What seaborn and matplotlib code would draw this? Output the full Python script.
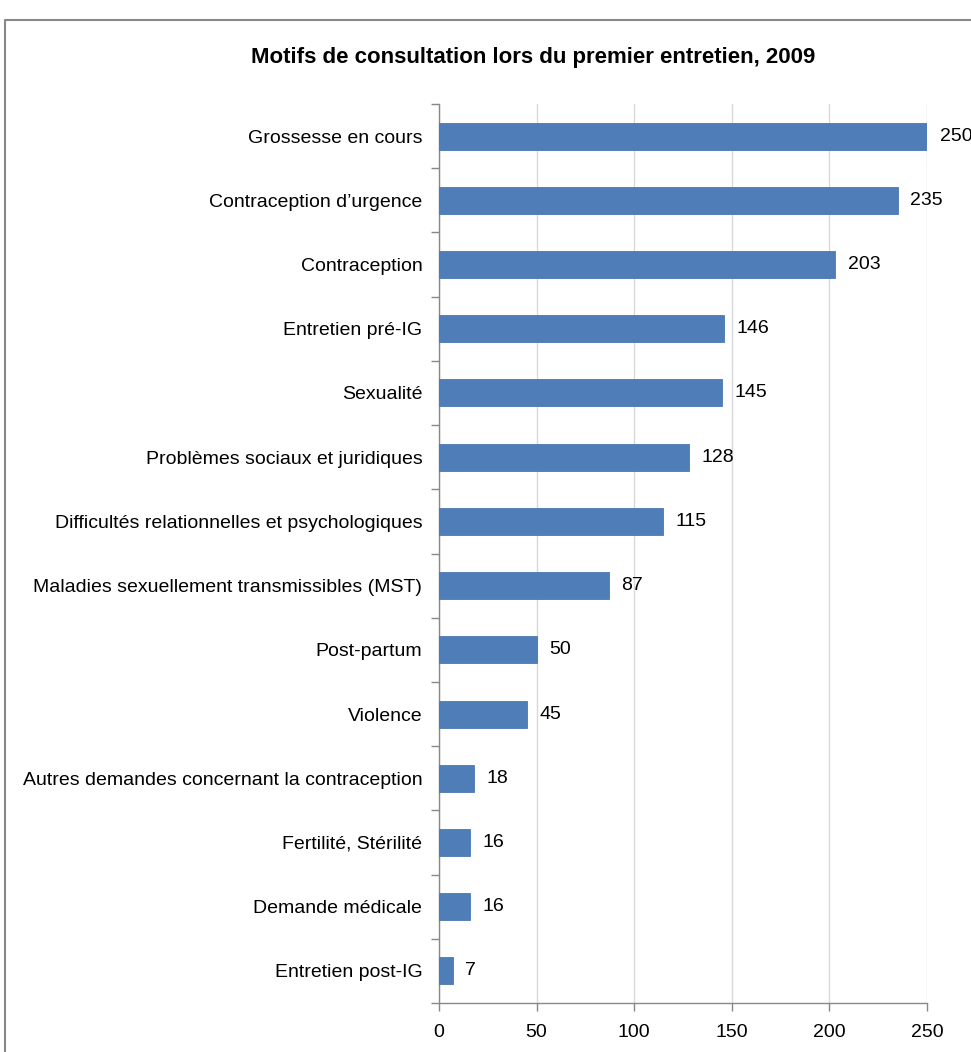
import matplotlib
matplotlib.use("Agg")
import matplotlib.pyplot as plt
from matplotlib.lines import Line2D
from matplotlib.ticker import FixedLocator
import seaborn as sns
import pandas as pd
import numpy as np

title = "Motifs de consultation lors du premier entretien, 2009"
categories = [
    "Grossesse en cours",
    "Contraception d’urgence",
    "Contraception",
    "Entretien pré-IG",
    "Sexualité",
    "Problèmes sociaux et juridiques",
    "Difficultés relationnelles et psychologiques",
    "Maladies sexuellement transmissibles (MST)",
    "Post-partum",
    "Violence",
    "Autres demandes concernant la contraception",
    "Fertilité, Stérilité",
    "Demande médicale",
    "Entretien post-IG",
]
values = [250, 235, 203, 146, 145, 128, 115, 87, 50, 45, 18, 16, 16, 7]
x_ticks = [0, 50, 100, 150, 200, 250]

sns.set_theme(style="white")
plt.rcParams["font.family"] = ["Liberation Sans", "DejaVu Sans"]

df = pd.DataFrame({"cat": categories, "val": values})

fig = plt.figure(figsize=(9.71, 10.52), dpi=100)
ax = fig.add_axes([439 / 971, 1 - 1003 / 1052, (927 - 439) / 971, (1003 - 104) / 1052])

sns.barplot(data=df, x="val", y="cat", orient="h", color="#4F7DB8",
            saturation=1, width=0.42, ax=ax, edgecolor="#4A78B2", linewidth=0.6, zorder=3)

ax.set_xlim(0, 250)
ax.set_ylim(len(categories) - 0.5, -0.5)
ax.set_xticks(x_ticks)
ax.set_xticklabels([str(t) for t in x_ticks], fontsize=14, color="black")
ax.set_xlabel("")
ax.set_ylabel("")
ax.grid(axis="x", color="#D9D9D9", linewidth=1, zorder=0)
ax.grid(axis="y", visible=False)
ax.set_axisbelow(True)

# y tick labels, ticks at category boundaries
ax.tick_params(axis="y", which="major", length=0, pad=12, labelsize=14, labelcolor="black")
ax.yaxis.set_minor_locator(FixedLocator(np.arange(-0.5, len(categories), 1.0)))
ax.tick_params(axis="y", which="minor", length=6, width=1, color="#888888", direction="out", left=True)
ax.tick_params(axis="x", which="major", length=6, width=1, color="#888888", direction="out", bottom=True, pad=9)

for s in ["top", "right"]:
    ax.spines[s].set_visible(False)
for s in ["left", "bottom"]:
    ax.spines[s].set_color("#888888")
    ax.spines[s].set_linewidth(1)

for container in ax.containers:
    ax.bar_label(container, labels=[str(v) for v in values], padding=9, fontsize=14, color="black")

fig.text(533 / 971, 1 - 58 / 1052, title, ha="center", va="center",
         fontsize=16, fontweight="bold", color="black")

# outer frame (left and top edges visible)
fig.add_artist(Line2D([5 / 971, 5 / 971, 1.0], [0.0, 1 - 20 / 1052, 1 - 20 / 1052],
                      transform=fig.transFigure, color="#888888", linewidth=1.5))

fig.savefig("out.png", dpi=100)
